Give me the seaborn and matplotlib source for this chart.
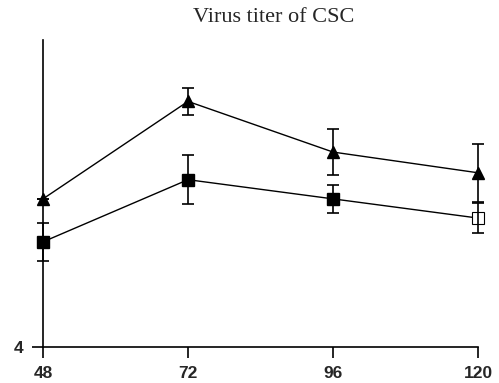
import numpy as np
import pandas as pd
import seaborn as sns
from matplotlib import pyplot as plt

# hours post infection
hours = [48, 72, 96, 120]
# log titer, triangle series
tri_mean = [5.93, 7.20, 6.54, 6.27]
tri_err = [0.0, 0.18, 0.30, 0.38]
# log titer, square series
sq_mean = [5.37, 6.18, 5.93, 5.68]
sq_err = [0.25, 0.32, 0.18, 0.19]

sns.set_style("ticks")
plt.rcParams['font.family'] = ['Liberation Sans', 'DejaVu Sans']

fig = plt.figure(figsize=(4.99, 3.83), dpi=100)
ax = fig.add_axes([43 / 499, 1 - 347 / 383, 435 / 499, 307 / 383])

df = pd.DataFrame({"hours": hours * 2,
                   "titer": tri_mean + sq_mean,
                   "group": ["tri"] * 4 + ["sq"] * 4})

sns.lineplot(data=df, x="hours", y="titer", units="group", estimator=None,
             color="black", lw=1.0, ax=ax, clip_on=False)

ax.errorbar(hours, tri_mean, yerr=tri_err, fmt="none", ecolor="black",
            elinewidth=1.2, capsize=4.5, capthick=1.2, clip_on=False, zorder=3)
ax.errorbar(hours, sq_mean, yerr=sq_err, fmt="none", ecolor="black",
            elinewidth=1.2, capsize=4.5, capthick=1.2, clip_on=False, zorder=3)

ax.plot(hours, tri_mean, ls="none", marker="^", ms=9, color="black",
        clip_on=False, zorder=4)
ax.plot(hours[:3], sq_mean[:3], ls="none", marker="s", ms=8, color="black",
        clip_on=False, zorder=4)
ax.plot(hours[3:], sq_mean[3:], ls="none", marker="s", ms=8, mfc="white",
        mec="black", mew=0.8, clip_on=False, zorder=2)

ax.set_xlim(48, 120)
ax.set_ylim(4, 8)
ax.set_xticks(hours)
ax.set_xticklabels([str(h) for h in hours], fontweight="bold", fontsize=12.5)
ax.set_yticks([4])
ax.set_yticklabels(["4"], fontweight="bold", fontsize=12.5)
ax.set_xlabel("")
ax.set_ylabel("")
ax.tick_params(axis="both", length=8, width=1.2, color="black", pad=6)
for s in ["top", "right"]:
    ax.spines[s].set_visible(False)
for s in ["left", "bottom"]:
    ax.spines[s].set_linewidth(1.2)
    ax.spines[s].set_color("black")

fig.text(274 / 499, 1 - 18 / 383, "Virus titer of CSC", ha="center", va="center",
         fontsize=16, family="Liberation Serif")

fig.savefig("out.png", dpi=100)
